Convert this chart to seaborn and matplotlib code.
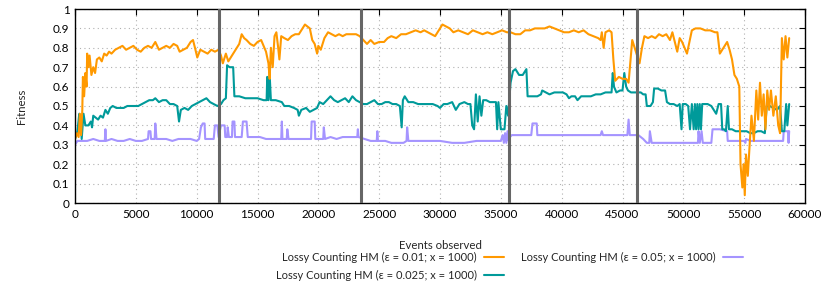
import numpy as np
import pandas as pd
import matplotlib
matplotlib.use("Agg")
import matplotlib.pyplot as plt
import seaborn as sns

# ---------------- data ----------------
orange_x = [0,150,300,400,500,600,650,750,850,950,1000,1100,1200,1350,1500,1650,1800,2000,2200,2400,2600,2800,3000,3300,3600,3900,4200,4500,4800,5100,5400,5700,6000,6300,6600,6900,7200,7500,7800,8100,8400,8600,8900,9200,9500,9700,9900,10050,10300,10600,10900,11200,11500,11800,12000,12150,12400,12600,12900,13200,13500,13700,13900,14100,14400,14700,15000,15300,15500,15700,15900,16000,16100,16250,16400,16550,16700,16800,16950,17200,17500,17800,18100,18400,18700,18900,19100,19300,19500,19700,19900,20000,20200,20500,20800,21100,21400,21700,22000,22300,22700,23100,23400,23700,24000,24300,24600,25000,25400,25700,26000,26400,26800,27200,27600,28000,28400,28700,29000,29300,29600,29900,30200,30500,30800,31100,31500,31900,32300,32700,33100,33500,33900,34300,34700,35100,35500,35800,36200,36600,37000,37400,37800,38200,38600,39000,39400,39800,40200,40600,41000,41400,41800,42200,42600,43000,43200,43300,43450,43600,43900,44100,44250,44400,44700,45000,45300,45500,45800,46000,46200,46400,46600,46800,47100,47400,47700,48000,48300,48600,48900,49100,49300,49500,49700,49900,50100,50300,50500,50700,51000,51400,51800,52200,52600,52800,53000,53300,53600,53800,54000,54200,54400,54600,54700,54850,54950,55050,55150,55300,55450,55600,55800,56000,56150,56300,56450,56600,56750,56900,57050,57200,57400,57600,57800,57950,58100,58250,58400,58550,58700]
orange_y = [0.33,0.36,0.34,0.46,0.35,0.48,0.65,0.55,0.67,0.60,0.77,0.70,0.76,0.66,0.70,0.67,0.74,0.75,0.73,0.77,0.76,0.78,0.77,0.79,0.80,0.81,0.79,0.80,0.81,0.79,0.78,0.80,0.81,0.80,0.83,0.79,0.80,0.81,0.80,0.82,0.81,0.78,0.79,0.80,0.83,0.84,0.79,0.75,0.79,0.78,0.77,0.79,0.78,0.79,0.76,0.72,0.77,0.73,0.76,0.79,0.82,0.87,0.85,0.84,0.82,0.81,0.83,0.84,0.81,0.78,0.72,0.64,0.80,0.70,0.86,0.88,0.80,0.74,0.86,0.85,0.84,0.86,0.87,0.87,0.90,0.92,0.91,0.90,0.84,0.82,0.77,0.81,0.79,0.85,0.88,0.87,0.86,0.87,0.86,0.87,0.87,0.87,0.86,0.84,0.82,0.84,0.82,0.83,0.83,0.85,0.86,0.85,0.87,0.87,0.88,0.89,0.88,0.89,0.88,0.87,0.86,0.89,0.92,0.91,0.90,0.88,0.89,0.88,0.87,0.89,0.88,0.87,0.88,0.87,0.88,0.89,0.88,0.88,0.87,0.87,0.89,0.89,0.90,0.90,0.90,0.91,0.90,0.89,0.88,0.88,0.89,0.88,0.89,0.87,0.86,0.85,0.84,0.88,0.80,0.88,0.89,0.88,0.74,0.63,0.65,0.64,0.64,0.62,0.84,0.80,0.76,0.72,0.80,0.86,0.85,0.86,0.85,0.87,0.86,0.87,0.84,0.88,0.83,0.78,0.85,0.83,0.80,0.77,0.83,0.89,0.90,0.90,0.89,0.89,0.88,0.88,0.77,0.80,0.83,0.79,0.74,0.66,0.64,0.60,0.20,0.08,0.20,0.04,0.25,0.14,0.30,0.45,0.32,0.58,0.43,0.62,0.45,0.56,0.38,0.58,0.48,0.58,0.45,0.55,0.40,0.36,0.85,0.74,0.86,0.75,0.85]

teal_x = [0,200,350,450,550,700,850,1100,1300,1400,1500,1700,1900,2100,2300,2500,2700,2900,3100,3400,3700,4000,4300,4600,4900,5200,5500,5800,6100,6400,6600,6900,7200,7500,7800,8100,8400,8550,8700,9000,9300,9600,9900,10200,10500,10800,11100,11400,11700,12000,12200,12400,12500,12700,13000,13100,13500,14000,14500,15000,15500,15750,15800,15900,16000,16100,16500,17000,17200,17600,18000,18300,18400,18600,19000,19300,19600,19900,20100,20400,20700,21000,21300,21600,21900,22200,22500,22800,23100,23400,23700,24000,24300,24600,24900,25200,25500,25800,26100,26400,26700,26850,26950,27100,27400,27800,28200,28600,29000,29400,29800,30000,30300,30600,31000,31300,31600,32000,32300,32500,32650,32800,32950,33100,33250,33400,33550,33800,34100,34400,34600,34700,34800,35000,35300,35450,35600,35800,36000,36200,36500,36800,37100,37200,37600,38000,38300,38400,38700,39000,39400,39800,40100,40400,40600,40800,41100,41300,41600,42000,42400,42800,43200,43600,43900,44100,44200,44300,44500,44800,45000,45150,45300,45450,45700,46000,46300,46500,46700,46900,47000,47300,47500,47600,47900,48200,48500,48650,48900,49200,49500,49700,49850,49950,50200,50400,50550,50700,50850,50950,51050,51150,51250,51350,51450,51550,51700,52000,52300,52500,52700,52900,53100,53200,53350,53500,53650,53750,54000,54300,54600,54900,55200,55500,55800,56100,56400,56700,56850,57100,57400,57700,57950,58100,58300,58450,58550,58700]
teal_y = [0.33,0.37,0.46,0.44,0.33,0.46,0.40,0.40,0.42,0.39,0.45,0.44,0.43,0.45,0.44,0.48,0.46,0.49,0.50,0.49,0.49,0.49,0.50,0.50,0.50,0.50,0.51,0.52,0.53,0.53,0.54,0.52,0.53,0.53,0.51,0.51,0.50,0.42,0.48,0.49,0.48,0.50,0.51,0.52,0.53,0.54,0.52,0.51,0.50,0.51,0.53,0.54,0.71,0.70,0.70,0.55,0.55,0.54,0.54,0.54,0.53,0.53,0.65,0.53,0.66,0.53,0.53,0.52,0.50,0.50,0.49,0.48,0.45,0.48,0.49,0.47,0.48,0.49,0.52,0.51,0.53,0.55,0.53,0.52,0.53,0.54,0.52,0.55,0.53,0.52,0.51,0.51,0.52,0.53,0.51,0.51,0.52,0.52,0.51,0.51,0.50,0.39,0.53,0.55,0.52,0.52,0.51,0.51,0.51,0.51,0.50,0.49,0.51,0.51,0.52,0.48,0.51,0.52,0.51,0.51,0.40,0.38,0.56,0.42,0.55,0.45,0.53,0.53,0.52,0.52,0.52,0.38,0.52,0.38,0.38,0.50,0.45,0.62,0.68,0.69,0.66,0.66,0.69,0.55,0.55,0.55,0.56,0.58,0.57,0.56,0.57,0.57,0.57,0.56,0.54,0.55,0.55,0.53,0.55,0.55,0.55,0.56,0.56,0.57,0.57,0.57,0.67,0.60,0.57,0.58,0.58,0.67,0.60,0.58,0.57,0.57,0.57,0.57,0.56,0.56,0.50,0.50,0.52,0.59,0.59,0.58,0.58,0.52,0.51,0.51,0.50,0.51,0.38,0.51,0.51,0.50,0.38,0.51,0.38,0.51,0.38,0.51,0.38,0.51,0.38,0.51,0.51,0.51,0.50,0.48,0.46,0.51,0.51,0.38,0.38,0.37,0.50,0.38,0.38,0.37,0.37,0.37,0.37,0.36,0.36,0.37,0.37,0.36,0.50,0.50,0.49,0.48,0.50,0.37,0.37,0.51,0.40,0.51]

lav_x = [0,200,500,1000,1500,2000,2450,2500,2550,3000,3500,4000,4500,5000,5500,6000,6050,6200,6250,6550,6600,6700,7000,7500,8000,8500,9000,9500,10000,10200,10350,10500,10650,10700,11000,11400,11500,11700,11800,12000,12300,12350,12500,12550,12650,12900,12950,13100,13150,13700,13800,14100,14200,14700,15200,15700,16200,16700,16950,17000,17050,17400,17450,17550,18000,18500,19000,19400,19450,19700,19750,20400,20450,20550,21000,21500,22000,22500,23000,23200,23250,23300,23800,24300,24800,24850,24900,25500,26000,26500,27000,27250,27300,27400,28000,29000,30000,31000,32000,33000,34000,35000,35150,35250,35350,35450,35550,35650,35750,35900,36500,37000,37500,37600,37950,38000,38500,39500,40500,41500,42500,43200,43300,43400,44500,45400,45500,45600,46300,46700,47000,47200,47250,47400,48000,49000,50000,51000,51200,51250,51350,51500,51600,52300,52400,53000,53600,53650,54500,55000,55100,55150,55500,56000,56500,57000,57500,58000,58200,58250,58600,58650,58700]
lav_y = [0.30,0.32,0.32,0.32,0.33,0.32,0.32,0.38,0.32,0.33,0.32,0.32,0.33,0.32,0.32,0.33,0.37,0.37,0.33,0.33,0.41,0.33,0.33,0.33,0.32,0.33,0.33,0.33,0.32,0.33,0.39,0.41,0.41,0.33,0.33,0.33,0.40,0.40,0.34,0.40,0.40,0.34,0.34,0.39,0.34,0.34,0.42,0.42,0.34,0.34,0.42,0.42,0.34,0.34,0.34,0.33,0.33,0.33,0.33,0.42,0.33,0.33,0.38,0.33,0.33,0.33,0.33,0.33,0.42,0.42,0.33,0.33,0.39,0.33,0.34,0.33,0.34,0.34,0.34,0.34,0.38,0.34,0.33,0.32,0.32,0.37,0.32,0.32,0.31,0.31,0.31,0.32,0.39,0.32,0.32,0.32,0.32,0.31,0.31,0.32,0.32,0.32,0.35,0.31,0.36,0.31,0.37,0.32,0.34,0.35,0.35,0.35,0.35,0.41,0.41,0.35,0.35,0.35,0.35,0.35,0.35,0.35,0.37,0.35,0.35,0.35,0.43,0.35,0.35,0.33,0.31,0.31,0.37,0.31,0.31,0.31,0.31,0.31,0.31,0.37,0.31,0.37,0.31,0.31,0.38,0.38,0.37,0.32,0.32,0.32,0.31,0.33,0.32,0.32,0.32,0.32,0.32,0.32,0.32,0.37,0.37,0.31,0.37]

series_labels = ["Lossy Counting HM (ε = 0.01; x = 1000)",
                 "Lossy Counting HM (ε = 0.025; x = 1000)",
                 "Lossy Counting HM (ε = 0.05; x = 1000)"]
phase_changes = [11850, 23500, 35700, 46200]
x_ticks = [0, 5000, 10000, 15000, 20000, 25000, 30000, 35000, 40000, 45000, 50000, 55000, 60000]
y_ticks = [0, 0.1, 0.2, 0.3, 0.4, 0.5, 0.6, 0.7, 0.8, 0.9, 1]
y_tick_labels = ["0", "0.1", "0.2", "0.3", "0.4", "0.5", "0.6", "0.7", "0.8", "0.9", "1"]

colors = ["#ff9900", "#009a9a", "#a594ff"]

# ---------------- plot ----------------
sns.set_style("white")
plt.rcParams['font.family'] = ['Lato', 'DejaVu Sans']
plt.rcParams['font.size'] = 8.5

fig = plt.figure(figsize=(8.30, 2.91), dpi=100)
ax = fig.add_axes([75/830, 1 - 203/291, 730/830, 194/291])

series = [(orange_x, orange_y), (teal_x, teal_y), (lav_x, lav_y)]
for idx in [2, 1, 0]:
    xs, ys = series[idx]
    sns.lineplot(x=xs, y=ys, ax=ax, color=colors[idx], linewidth=1.5,
                 estimator=None, sort=False, label=series_labels[idx], legend=False)

for xv in phase_changes:
    ax.axvline(xv, color="#666666", linewidth=2.2, zorder=5)

ax.set_xlim(0, 60000)
ax.set_ylim(0, 1)
ax.set_xticks(x_ticks)
ax.set_xticklabels([str(t) for t in x_ticks])
ax.set_yticks(y_ticks)
ax.set_yticklabels(y_tick_labels)
ax.grid(True, color="#b0b0b0", linestyle=(0, (1, 3)), linewidth=0.8)
ax.tick_params(direction="in", length=4, width=0.8, top=True, right=True,
               labelsize=8.5, colors="black", pad=4)
for sp in ax.spines.values():
    sp.set_color("black")
    sp.set_linewidth(1.0)
    sp.set_visible(True)

ax.set_xlabel("Events observed", fontsize=8.2, labelpad=15)
ax.set_ylabel("Fitness", fontsize=8.2, labelpad=19)

handles = [plt.Line2D([], [], color=c, linewidth=1.5) for c in colors]
fig.legend(handles, series_labels, ncol=2, loc="upper left",
           bbox_to_anchor=(276/830, 1 - 252/291), frameon=False,
           markerfirst=False, handlelength=1.8, handletextpad=0.6,
           columnspacing=1.6, labelspacing=0.6, fontsize=8.0,
           borderpad=0, borderaxespad=0)

fig.savefig("out.png", dpi=100)
